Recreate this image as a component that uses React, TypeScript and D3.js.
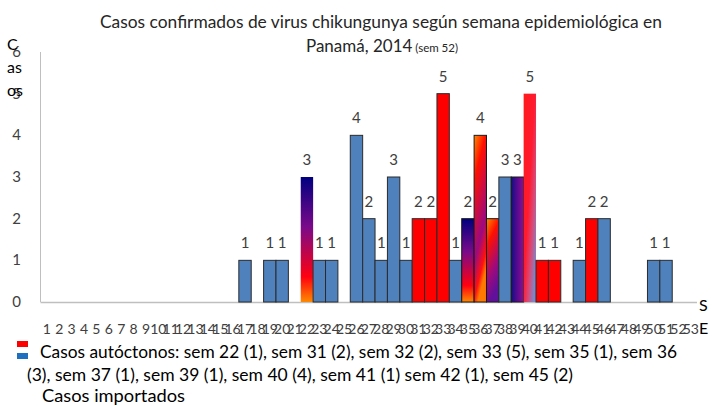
import React from "react";
import * as d3 from "d3";

const weeks: number[] = Array.from({ length: 53 }, (_, i) => i + 1);
// Imported cases per epidemiological week (index = week - 1)
const importados: number[] = [
  0, 0, 0, 0, 0, 0, 0, 0, 0, 0,
  0, 0, 0, 0, 0, 0, 1, 0, 1, 1,
  0, 2, 1, 1, 0, 4, 2, 1, 3, 1,
  0, 0, 0, 1, 1, 1, 1, 3, 2, 1,
  0, 0, 0, 1, 0, 2, 0, 0, 0, 1,
  1, 0, 0,
];
// Autochthonous cases per epidemiological week
const autoctonos: number[] = [
  0, 0, 0, 0, 0, 0, 0, 0, 0, 0,
  0, 0, 0, 0, 0, 0, 0, 0, 0, 0,
  0, 1, 0, 0, 0, 0, 0, 0, 0, 0,
  2, 2, 5, 0, 1, 3, 1, 0, 1, 4,
  1, 1, 0, 0, 2, 0, 0, 0, 0, 0,
  0, 0, 0,
];
const yTicks: number[] = [0, 1, 2, 3, 4, 5, 6];

const titleLine1 = "Casos confirmados de virus chikungunya según semana epidemiológica en";
const titleLine2 = "Panamá, 2014";
const titleSmall = "(sem 52)";
const legendLine1 = "Casos autóctonos: sem 22 (1), sem 31 (2), sem 32 (2), sem 33 (5), sem 35 (1), sem 36";
const legendLine2 = "(3), sem 37 (1), sem 39 (1), sem 40 (4), sem 41 (1) sem  42 (1), sem 45 (2)";
const legendLine3 = "Casos importados";

// gradient styles for mixed weeks
type Grad = { x2: number; y2: number; stops: [number, string][] };
const gradVertNavy: Grad = { x2: 0, y2: 1, stops: [[0, "#000080"], [0.4, "#7a0a8a"], [0.8, "#ff0010"], [1, "#ff8a00"]] };
const mixedStyles: Record<number, Grad> = {
  22: gradVertNavy,
  35: gradVertNavy,
  36: { x2: 0.3, y2: 1, stops: [[0, "#ff8a00"], [0.25, "#ff1000"], [0.7, "#9a0a80"], [0.9, "#ff1010"], [1, "#ff7a00"]] },
  37: { x2: 0.3, y2: 1, stops: [[0, "#ff8a00"], [0.3, "#ff1000"], [0.7, "#a00a7a"], [1, "#60109a"]] },
  39: { x2: 1, y2: 0, stops: [[0, "#101080"], [0.5, "#5a0a90"], [1, "#8a1090"]] },
  40: { x2: 0.9, y2: 0.9, stops: [[0, "#ff1a1a"], [0.5, "#ff1a30"], [0.75, "#d84a78"], [1, "#7f86c8"]] },
};

const BLUE = "#4f81bd";
const RED = "#ff0000";
const FONT = "Lato, 'Liberation Sans', sans-serif";

export default function App() {
  const W = 712, H = 406;
  const x = d3.scaleBand<number>().domain(weeks).range([40.7, 697]).paddingInner(0).paddingOuter(0);
  const y = d3.scaleLinear().domain([0, 6]).range([302, 52]);
  const totals = weeks.map((_, i) => importados[i] + autoctonos[i]);

  return (
    <svg width={W} height={H} style={{ position: "absolute", left: 0, top: 0, display: "block" }} fontFamily={FONT}>
      <defs>
        {Object.entries(mixedStyles).map(([wk, g]) => (
          <linearGradient key={wk} id={`g${wk}`} x1={0} y1={0} x2={g.x2} y2={g.y2}>
            {g.stops.map(([o, c], j) => (
              <stop key={j} offset={o} stopColor={c} />
            ))}
          </linearGradient>
        ))}
      </defs>
      <rect width={W} height={H} fill="#fff" />

      {/* title */}
      <text x={381} y={28} textAnchor="middle" fontSize={17} fill="#262626" textLength={562} lengthAdjust="spacingAndGlyphs">{titleLine1}</text>
      <text x={382} y={52} textAnchor="middle" fontSize={17} fill="#262626">
        {titleLine2}
        <tspan fontSize={11.5}>{" " + titleSmall}</tspan>
      </text>

      {/* axes */}
      <line x1={40.5} x2={40.5} y1={52} y2={302} stroke="#bfbfbf" />
      <line x1={40.5} x2={697} y1={302.5} y2={302.5} stroke="#bfbfbf" strokeWidth={1.5} />
      {yTicks.map((t) => (
        <text key={t} x={21} y={y(t) + 5} textAnchor="end" fontSize={15} fill="#404040">{t}</text>
      ))}
      <text x={7} y={50} fontSize={16} fill="#000">C</text>
      <text x={7} y={73} fontSize={16} fill="#000">as</text>
      <text x={7} y={96} fontSize={16} fill="#000">os</text>
      <text x={699} y={311} fontSize={16} fill="#000">S</text>
      <text x={699} y={334} fontSize={16} fill="#000">E</text>

      {weeks.map((w) => (
        <text key={w} x={(x(w) as number) + x.bandwidth() / 2} y={334} textAnchor="middle" fontSize={14} fill="#404040">{w}</text>
      ))}

      {/* bars */}
      {weeks.map((w, i) => {
        const tot = totals[i];
        if (tot <= 0) return null;
        const a = autoctonos[i], im = importados[i];
        const fill = a > 0 && im > 0 ? `url(#g${w})` : a > 0 ? RED : BLUE;
        const x0 = x(w) as number;
        return (
          <g key={w}>
            <rect x={x0} y={y(tot)} width={x.bandwidth()} height={y(0) - y(tot)} fill={fill}
              stroke={a > 0 && im > 0 ? "#1a1a1a" : "#2b2b2b"} strokeWidth={a > 0 && im > 0 && (w === 22 || w === 40) ? 0 : 1} />
            <text x={x0 + x.bandwidth() / 2} y={y(tot) - 12} textAnchor="middle" fontSize={15} fill="#404040">{tot}</text>
          </g>
        );
      })}

      {/* legend */}
      <rect x={17} y={341} width={11} height={6} fill={RED} />
      <rect x={17} y={353} width={11} height={6} fill="#1f6fc0" />
      <text x={40} y={358} fontSize={17} fill="#000" textLength={637} lengthAdjust="spacingAndGlyphs">{legendLine1}</text>
      <text x={27} y={381} fontSize={17} fill="#000" textLength={546} lengthAdjust="spacingAndGlyphs">{legendLine2}</text>
      <text x={42} y={402} fontSize={17} fill="#000" textLength={143} lengthAdjust="spacingAndGlyphs">{legendLine3}</text>
    </svg>
  );
}
